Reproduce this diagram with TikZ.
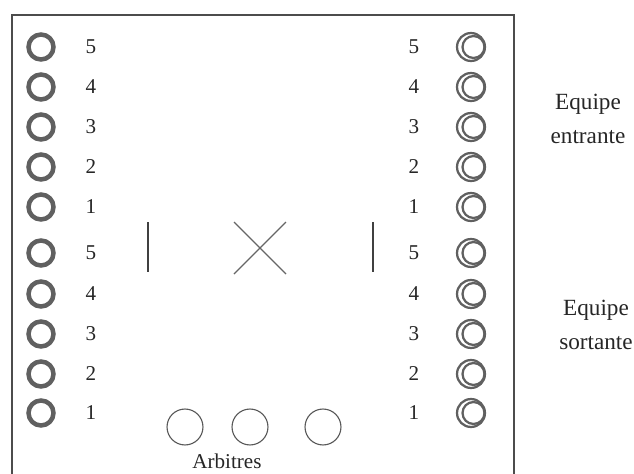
\documentclass[tikz,border=0pt]{standalone}
\usepackage{fontspec}
\setmainfont{Liberation Serif}
\begin{document}
\begin{tikzpicture}[x=0.025cm, y=-0.025cm, every node/.style={font=\fontsize{15}{24}\selectfont, text=black!85}]
        \useasboundingbox (0,0) rectangle (634,474);

        % Styles des joueurs et des arbitres
        \tikzset{
            joueurG/.style={circle, draw=gray!75!black, line width=3.2pt, inner sep=0pt},
            joueurD/.style={circle, draw=gray!75!black, line width=1.6pt, inner sep=0pt},
            arbitre/.style={circle, draw=gray!70!black, line width=0.8pt, minimum size=36*0.71pt, inner sep=0pt},
            equipe/.style={align=center, font=\fontsize{16.5}{24}\selectfont}
        }

        % Cadre du terrain (le bas sort de l'image)
        \draw[gray!60!black, line width=1.4pt] (12,490) -- (12,15) -- (514,15) -- (514,490);

        % Joueurs : numéro / y équipe entrante / y équipe sortante
        \foreach \n/\yh/\yb in {5/47/253, 4/87/294, 3/127/334, 2/167/374, 1/207/413} {
            % --- Côté gauche
            \node[joueurG, minimum size=25*0.71pt] (gh\n) at (41,\yh) {};
            \node[joueurG, minimum size=25*0.71pt] (gb\n) at (41,\yb) {};
            \node (ngh\n) at (91,\yh) {\n};
            \node (ngb\n) at (91,\yb) {\n};
            % --- Côté droit (double cercle)
            \node[joueurD, minimum size=28*0.71pt] (dh\n) at (471,\yh) {};
            \node[joueurD, minimum size=22*0.71pt] at (473.5,\yh) {};
            \node[joueurD, minimum size=28*0.71pt] (db\n) at (471,\yb) {};
            \node[joueurD, minimum size=22*0.71pt] at (473.5,\yb) {};
            \node (ndh\n) at (414,\yh) {\n};
            \node (ndb\n) at (414,\yb) {\n};
        }

        % Centre du terrain
        \draw[black!75, line width=1.1pt] (148,222) -- (148,272);
        \draw[black!75, line width=1.1pt] (373,222) -- (373,272);
        \draw[gray!80!black, line width=0.9pt] (234,222) -- (286,274);
        \draw[gray!80!black, line width=0.9pt] (234,274) -- (286,222);

        % Arbitres
        \foreach \x [count=\i] in {185, 250, 323} {
            \node[arbitre] (arb\i) at (\x,427) {};
        }
        \node (larb) at (227,461) {Arbitres};

        % Noms des équipes
        \node[equipe] (entrante) at (588,119) {Equipe\\entrante};
        \node[equipe] (sortante) at (596,325) {Equipe\\sortante};
    \end{tikzpicture}
\end{document}
